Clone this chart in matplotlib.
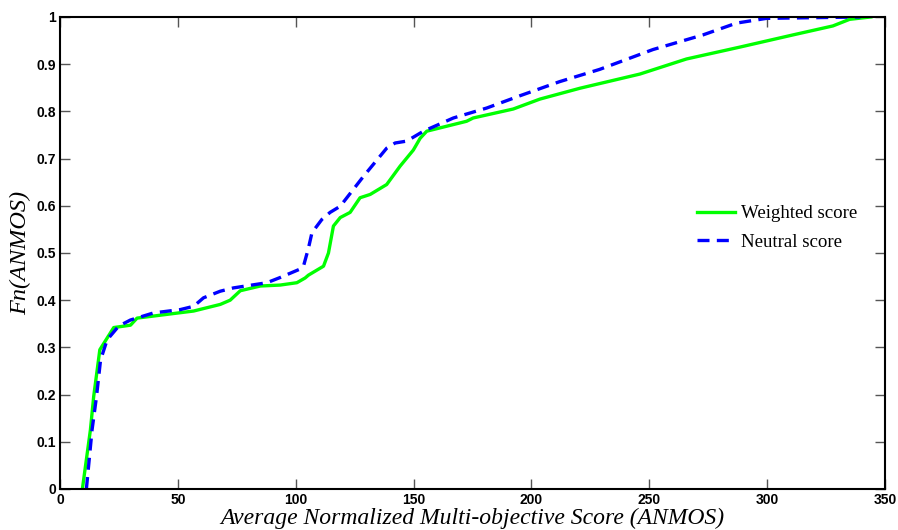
import matplotlib.pyplot as plt

x_weighted = [9.5, 12.9, 14.3, 16.9, 22.8, 29.9, 32.7, 56.7, 68, 72.2, 76.5, 85, 93.4, 100.5,
              104, 105.4, 111.8, 113.9, 116, 118.9, 123.1, 127.3, 131.6, 138.6, 144.3, 149.9,
              152.8, 155.6, 172.5, 175.3, 192.3, 203.6, 220.6, 246, 265.8, 288.3, 311, 327.9,
              335, 344]
y_weighted = [0, 0.125, 0.196, 0.295, 0.342, 0.347, 0.362, 0.377, 0.391, 0.40, 0.42, 0.43, 0.432,
              0.437, 0.447, 0.453, 0.472, 0.50, 0.557, 0.575, 0.586, 0.617, 0.624, 0.645, 0.684,
              0.718, 0.743, 0.758, 0.779, 0.786, 0.805, 0.826, 0.849, 0.879, 0.911, 0.936, 0.962,
              0.981, 0.995, 1.0]

x_neutral = [11.2, 13.6, 15.5, 17.2, 20, 24.9, 29.9, 39.7, 51, 56.7, 60.9, 68, 73.6, 87.8, 93.4,
             101.9, 103.3, 105.4, 106.9, 111.1, 114.6, 118.9, 128.7, 138.6, 142.2, 147.1, 154.2,
             166.9, 181, 195.1, 212, 229, 251.6, 272.8, 287, 299.7, 339.6]
y_neutral = [0, 0.125, 0.196, 0.273, 0.316, 0.345, 0.358, 0.373, 0.380, 0.387, 0.405, 0.419,
             0.426, 0.437, 0.448, 0.466, 0.472, 0.51, 0.543, 0.571, 0.586, 0.599, 0.662, 0.722,
             0.733, 0.737, 0.758, 0.786, 0.807, 0.833, 0.863, 0.889, 0.931, 0.962, 0.987, 0.997,
             1.0]

xticks = [0, 50, 100, 150, 200, 250, 300, 350]
yticks = [0, 0.1, 0.2, 0.3, 0.4, 0.5, 0.6, 0.7, 0.8, 0.9, 1]
yticklabels = ['0', '0.1', '0.2', '0.3', '0.4', '0.5', '0.6', '0.7', '0.8', '0.9', '1']

fig = plt.figure(figsize=(8.98, 5.30), dpi=100)
ax = fig.add_axes([0.0668, 0.0774, 0.9187, 0.8906])

ax.plot(x_weighted, y_weighted, color='#00ff00', lw=2.4, label='Weighted score')
ax.plot(x_neutral, y_neutral, color='#0000ff', lw=2.4, ls=(0, (3.6, 2.2)), label='Neutral score')

ax.set_xlim(0, 350)
ax.set_ylim(0, 1.0)
ax.set_xticks(xticks)
ax.set_yticks(yticks)
ax.set_yticklabels(yticklabels)
ax.tick_params(direction='in', length=7, width=1, color='#555555', top=True, right=True,
               labelsize=10, pad=3)
for lab in ax.get_xticklabels() + ax.get_yticklabels():
    lab.set_fontfamily('Liberation Sans')
    lab.set_fontweight('bold')
for s in ax.spines.values():
    s.set_linewidth(1.5)

ax.set_xlabel('Average Normalized Multi-objective Score (ANMOS)', family='Liberation Serif',
              style='italic', fontsize=17, labelpad=0.5)
ax.set_ylabel('Fn(ANMOS)', family='Liberation Serif', style='italic', fontsize=17.5, labelpad=4)

leg = ax.legend(loc='center left', bbox_to_anchor=(0.752, 0.553), frameon=False,
                prop={'family': 'Liberation Serif', 'size': 13.6}, handlelength=2.0,
                handletextpad=0.3, labelspacing=0.6)

fig.savefig('out.png', dpi=100)
